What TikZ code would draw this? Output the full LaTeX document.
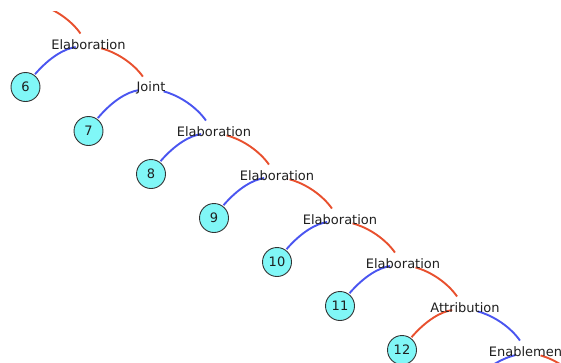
\documentclass[tikz,border=0pt]{standalone}
\usepackage{fontspec}
\setmainfont{DejaVu Sans}
\usetikzlibrary{backgrounds}
\definecolor{eblue}{HTML}{4A55F0}
\definecolor{ered}{HTML}{E8502E}
\definecolor{nfill}{HTML}{80F7F7}
\begin{document}
\begin{tikzpicture}[x=1pt,y=-1pt,
  lab/.style={font=\fontsize{13}{15}\selectfont, text=black!88, inner sep=0pt},
  leaf/.style={circle, draw=black!80, line width=0.9pt, fill=nfill, minimum size=29pt, inner sep=0pt, text=black!88, font=\fontsize{13}{15}\selectfont},
  eb/.style={eblue, line width=1.9pt},
  er/.style={ered, line width=1.9pt},
  tolab/.style={shorten <=13pt, shorten >=14pt},
  toleaf/.style={shorten <=13pt, shorten >=1pt}]
\useasboundingbox (0,0) rectangle (561,362);
\clip (0,0) rectangle (561,362);
% relation labels
\node[lab] (L0) at (88.5,45) {Elaboration};
\node[lab] (L1) at (151,88) {Joint};
\node[lab] (L2) at (214,132) {Elaboration};
\node[lab] (L3) at (277,176) {Elaboration};
\node[lab] (L4) at (340,220) {Elaboration};
\node[lab] (L5) at (403,264) {Elaboration};
\node[lab] (L6) at (465,308) {Attribution};
\node[lab] (L7) at (528,352) {Enablement};
% leaves
\node[leaf] (c6) at (25.5,87) {6};
\node[leaf] (c7) at (88.5,131) {7};
\node[leaf] (c8) at (151,174) {8};
\node[leaf] (c9) at (214,218) {9};
\node[leaf] (c10) at (277,262) {10};
\node[leaf] (c11) at (340,306) {11};
\node[leaf] (c12) at (402,350) {12};
% off-picture ends
\coordinate (Lm) at (25.75,1);
\coordinate (c13) at (464.5,394.5);
\coordinate (L8) at (590,396);
\begin{scope}[on background layer]
\begin{scope}
\clip (0,11) rectangle (561,362);
\draw[er, tolab] (Lm) to[bend left=20] (L0.center);
\end{scope}
\draw[eb, toleaf] (L0.center) to[bend right=20] (c6);
\draw[er, tolab] (L0.center) to[bend left=20] (L1.center);
\draw[eb, toleaf] (L1.center) to[bend right=20] (c7);
\draw[eb, tolab] (L1.center) to[bend left=20] (L2.center);
\draw[eb, toleaf] (L2.center) to[bend right=20] (c8);
\draw[er, tolab] (L2.center) to[bend left=20] (L3.center);
\draw[eb, toleaf] (L3.center) to[bend right=20] (c9);
\draw[er, tolab] (L3.center) to[bend left=20] (L4.center);
\draw[eb, toleaf] (L4.center) to[bend right=20] (c10);
\draw[er, tolab] (L4.center) to[bend left=20] (L5.center);
\draw[eb, toleaf] (L5.center) to[bend right=20] (c11);
\draw[er, tolab] (L5.center) to[bend left=20] (L6.center);
\draw[er, toleaf] (L6.center) to[bend right=20] (c12);
\draw[eb, tolab] (L6.center) to[bend left=20] (L7.center);
\draw[eb, tolab] (L7.center) to[bend right=20] (c13);
\draw[er, tolab] (L7.center) to[bend left=20] (L8);
\end{scope}
\end{tikzpicture}
\end{document}
